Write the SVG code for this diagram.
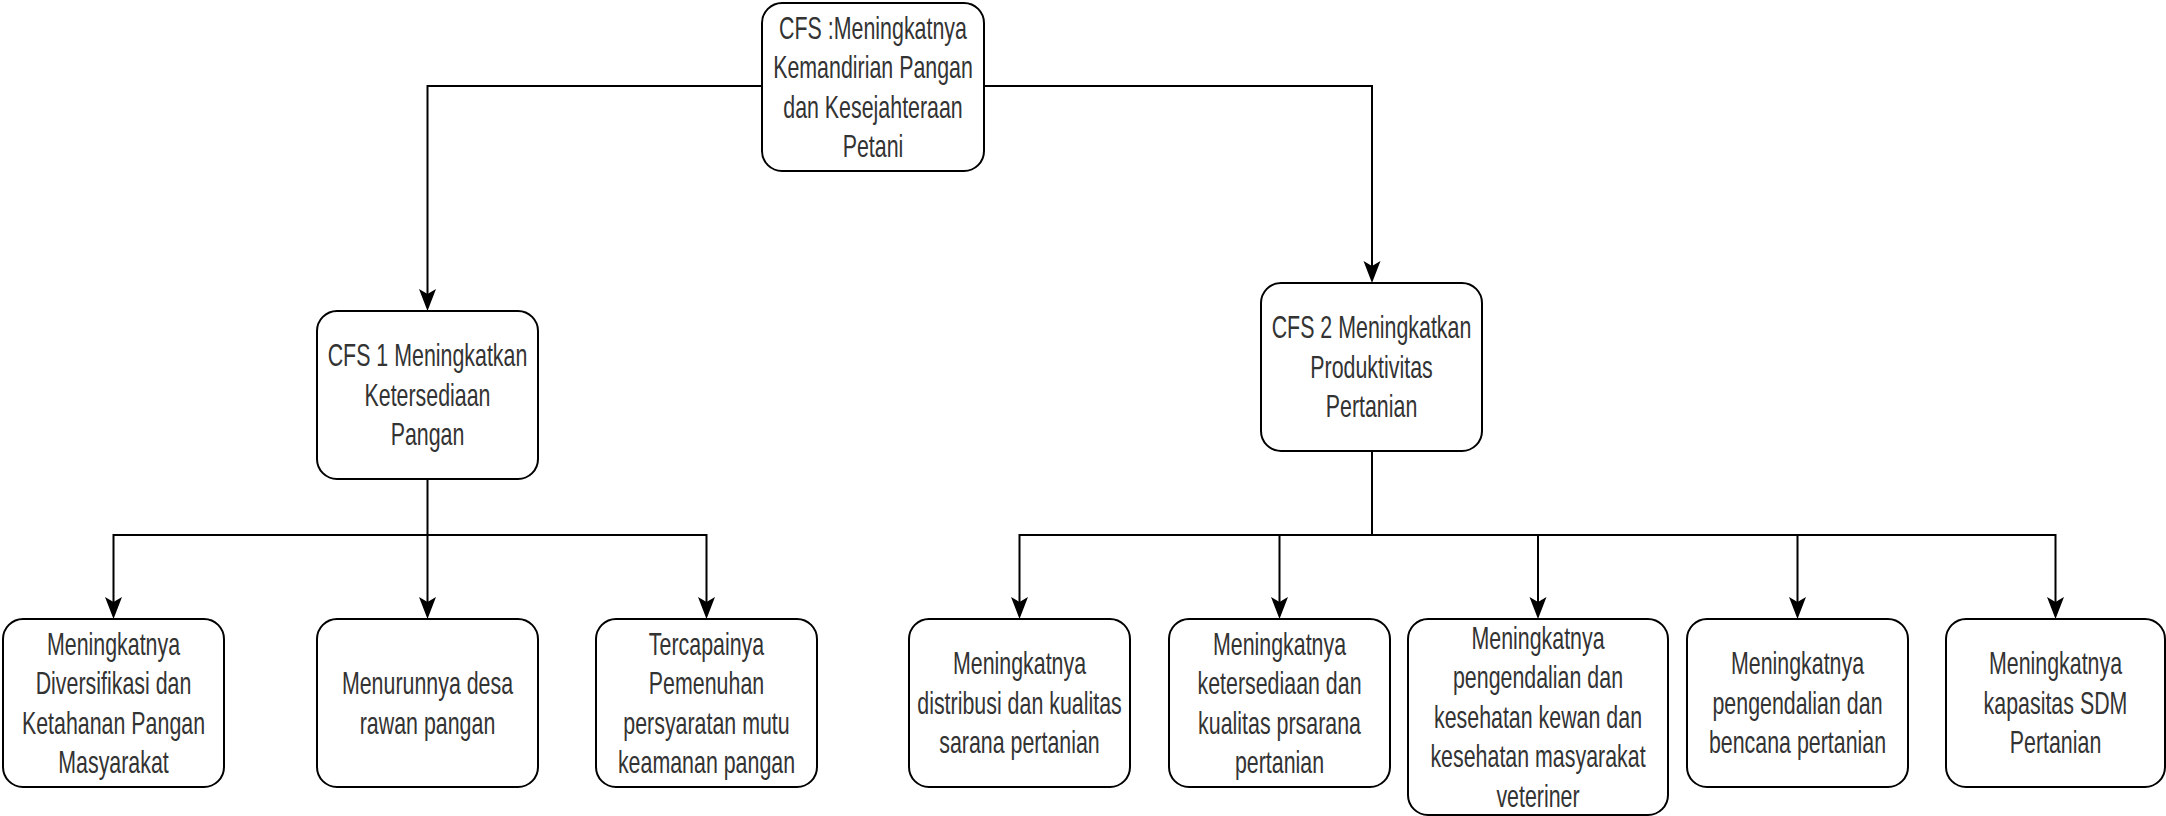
<svg xmlns="http://www.w3.org/2000/svg" width="2166" height="816" viewBox="0 0 2166 816">
<style>
.box{fill:#fff;stroke:#000;stroke-width:2}
.lbl{font-family:"Liberation Sans",Arial,sans-serif;font-size:31px;fill:#333;text-anchor:middle}
.conn{fill:none;stroke:#000;stroke-width:2}
</style>
<defs>
<marker id="arr" markerUnits="userSpaceOnUse" markerWidth="24" markerHeight="20" viewBox="0 0 24 20" refX="19" refY="10" orient="auto">
<path d="M24,10 L2,1.5 L7,10 L2,18.5 Z" fill="#000"/>
</marker>
</defs>
<rect width="2166" height="816" fill="#fff"/>
<g id="connectors">
<path class="conn" d="M762,86 H427.5 V306" marker-end="url(#arr)"/>
<path class="conn" d="M984,86 H1372 V278" marker-end="url(#arr)"/>
<path class="conn" d="M427.5,479 V535 H113.5 V614" marker-end="url(#arr)"/>
<path class="conn" d="M427.5,535 V614" marker-end="url(#arr)"/>
<path class="conn" d="M427.5,535 H706.5 V614" marker-end="url(#arr)"/>
<path class="conn" d="M1372,451 V535 H1019.5 V614" marker-end="url(#arr)"/>
<path class="conn" d="M1372,535 H1279.5 V614" marker-end="url(#arr)"/>
<path class="conn" d="M1372,535 H1538 V614" marker-end="url(#arr)"/>
<path class="conn" d="M1372,535 H1797.5 V614" marker-end="url(#arr)"/>
<path class="conn" d="M1372,535 H2055.5 V614" marker-end="url(#arr)"/>
</g>
<g id="n-top">
<rect class="box" x="762" y="3" width="222" height="168" rx="20" ry="20"/>
<text class="lbl" transform="translate(873 0) scale(0.69 1)"><tspan x="0" y="39">CFS :Meningkatnya</tspan><tspan x="0" y="78.5">Kemandirian Pangan</tspan><tspan x="0" y="118">dan Kesejahteraan</tspan><tspan x="0" y="157.5">Petani</tspan></text>
</g>
<g id="n-cfs1">
<rect class="box" x="317" y="311" width="221" height="168" rx="20" ry="20"/>
<text class="lbl" transform="translate(427.5 0) scale(0.69 1)"><tspan x="0" y="366.5">CFS 1 Meningkatkan</tspan><tspan x="0" y="406">Ketersediaan</tspan><tspan x="0" y="445.5">Pangan</tspan></text>
</g>
<g id="n-cfs2">
<rect class="box" x="1261" y="283" width="221" height="168" rx="20" ry="20"/>
<text class="lbl" transform="translate(1371.5 0) scale(0.69 1)"><tspan x="0" y="338.5">CFS 2 Meningkatkan</tspan><tspan x="0" y="378">Produktivitas</tspan><tspan x="0" y="417.5">Pertanian</tspan></text>
</g>
<g id="n-l1">
<rect class="box" x="3" y="619" width="221" height="168" rx="20" ry="20"/>
<text class="lbl" transform="translate(113.5 0) scale(0.69 1)"><tspan x="0" y="655">Meningkatnya</tspan><tspan x="0" y="694.5">Diversifikasi dan</tspan><tspan x="0" y="734">Ketahanan Pangan</tspan><tspan x="0" y="773.5">Masyarakat</tspan></text>
</g>
<g id="n-l2">
<rect class="box" x="317" y="619" width="221" height="168" rx="20" ry="20"/>
<text class="lbl" transform="translate(427.5 0) scale(0.69 1)"><tspan x="0" y="694.5">Menurunnya desa</tspan><tspan x="0" y="734">rawan pangan</tspan></text>
</g>
<g id="n-l3">
<rect class="box" x="596" y="619" width="221" height="168" rx="20" ry="20"/>
<text class="lbl" transform="translate(706.5 0) scale(0.69 1)"><tspan x="0" y="655">Tercapainya</tspan><tspan x="0" y="694.5">Pemenuhan</tspan><tspan x="0" y="734">persyaratan mutu</tspan><tspan x="0" y="773.5">keamanan pangan</tspan></text>
</g>
<g id="n-r1">
<rect class="box" x="909" y="619" width="221" height="168" rx="20" ry="20"/>
<text class="lbl" transform="translate(1019.5 0) scale(0.69 1)"><tspan x="0" y="674.5">Meningkatnya</tspan><tspan x="0" y="714">distribusi dan kualitas</tspan><tspan x="0" y="753.5">sarana pertanian</tspan></text>
</g>
<g id="n-r2">
<rect class="box" x="1169" y="619" width="221" height="168" rx="20" ry="20"/>
<text class="lbl" transform="translate(1279.5 0) scale(0.69 1)"><tspan x="0" y="655">Meningkatnya</tspan><tspan x="0" y="694.5">ketersediaan dan</tspan><tspan x="0" y="734">kualitas prsarana</tspan><tspan x="0" y="773.5">pertanian</tspan></text>
</g>
<g id="n-r3">
<rect class="box" x="1408" y="619" width="260" height="196" rx="20" ry="20"/>
<text class="lbl" transform="translate(1538 0) scale(0.69 1)"><tspan x="0" y="649">Meningkatnya</tspan><tspan x="0" y="688.5">pengendalian dan</tspan><tspan x="0" y="728">kesehatan kewan dan</tspan><tspan x="0" y="767.5">kesehatan masyarakat</tspan><tspan x="0" y="807">veteriner</tspan></text>
</g>
<g id="n-r4">
<rect class="box" x="1687" y="619" width="221" height="168" rx="20" ry="20"/>
<text class="lbl" transform="translate(1797.5 0) scale(0.69 1)"><tspan x="0" y="674.5">Meningkatnya</tspan><tspan x="0" y="714">pengendalian dan</tspan><tspan x="0" y="753.5">bencana pertanian</tspan></text>
</g>
<g id="n-r5">
<rect class="box" x="1946" y="619" width="219" height="168" rx="20" ry="20"/>
<text class="lbl" transform="translate(2055.5 0) scale(0.69 1)"><tspan x="0" y="674.5">Meningkatnya</tspan><tspan x="0" y="714">kapasitas SDM</tspan><tspan x="0" y="753.5">Pertanian</tspan></text>
</g>
</svg>
